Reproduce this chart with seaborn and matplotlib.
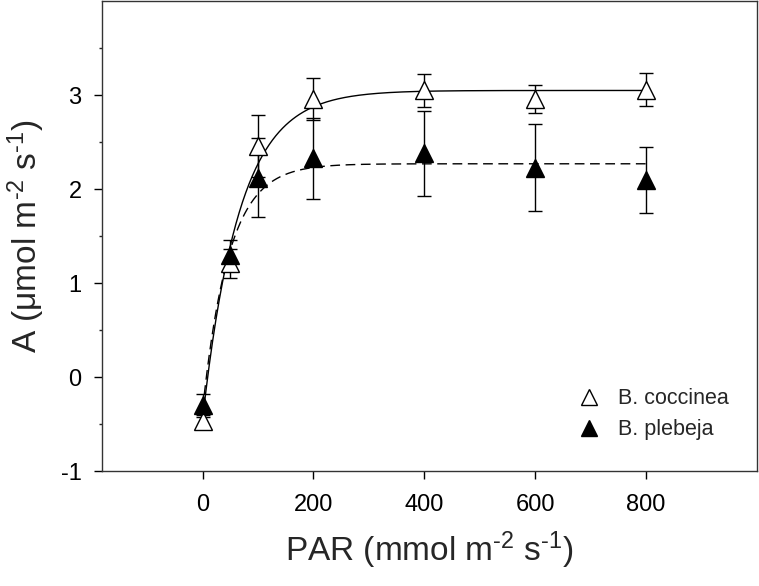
import numpy as np
import pandas as pd
import matplotlib
matplotlib.use("Agg")
import matplotlib.pyplot as plt
import seaborn as sns
from matplotlib.lines import Line2D

# Valores
par = [0, 50, 100, 200, 400, 600, 800]
coccinea = [-0.47, 1.21, 2.46, 2.96, 3.05, 2.96, 3.06]
coccinea_err = [0.07, 0.15, 0.33, 0.22, 0.18, 0.15, 0.18]
plebeja = [-0.30, 1.30, 2.12, 2.33, 2.38, 2.23, 2.10]
plebeja_err = [0.12, 0.16, 0.42, 0.43, 0.45, 0.46, 0.35]

# Parâmetros das curvas ajustadas: A = A0 + (Amax - A0) * (1 - exp(-k * PAR))
fit_coccinea = {"A0": -0.45, "Amax": 3.05, "k": 0.015}
fit_plebeja = {"A0": -0.35, "Amax": 2.27, "k": 0.021}

sns.set_style("ticks")
plt.rcParams["font.family"] = ["Liberation Sans", "DejaVu Sans"]
plt.rcParams["mathtext.fontset"] = "custom"
plt.rcParams["mathtext.rm"] = "Liberation Sans"
plt.rcParams["mathtext.it"] = "Liberation Sans"
plt.rcParams["axes.unicode_minus"] = False

fig, ax = plt.subplots(figsize=(7.59, 5.86), dpi=100)
fig.subplots_adjust(left=0.134, right=0.997, top=0.998, bottom=0.196)

x_fit = np.linspace(0, 800, 400)
curvas = []
for nome, p in [("B. coccinea", fit_coccinea), ("B. plebeja", fit_plebeja)]:
    y_fit = p["A0"] + (p["Amax"] - p["A0"]) * (1 - np.exp(-p["k"] * x_fit))
    curvas.append(pd.DataFrame({"PAR": x_fit, "A": y_fit, "especie": nome}))
curvas = pd.concat(curvas)

sns.lineplot(data=curvas, x="PAR", y="A", style="especie",
             dashes={"B. coccinea": "", "B. plebeja": (7, 4)},
             color="black", linewidth=1.0, legend=False, ax=ax)

ax.errorbar(par, coccinea, yerr=coccinea_err, fmt="none", ecolor="black",
            elinewidth=1.0, capsize=4.7, capthick=1.0, zorder=3)
ax.errorbar(par, plebeja, yerr=plebeja_err, fmt="none", ecolor="black",
            elinewidth=1.0, capsize=4.7, capthick=1.0, zorder=3)

ax.plot(par, coccinea, linestyle="none", marker="^", markersize=12.5,
        markerfacecolor="white", markeredgecolor="black", markeredgewidth=1.0, zorder=4)
ax.plot(par, plebeja, linestyle="none", marker="^", markersize=12.5,
        markerfacecolor="black", markeredgecolor="black", markeredgewidth=1.0, zorder=5)

ax.set_xlim(-182, 1000)
ax.set_ylim(-1, 4)
ax.set_xticks([0, 200, 400, 600, 800])
ax.set_yticks([-1, 0, 1, 2, 3])
ax.set_yticks([-0.5, 0.5, 1.5, 2.5, 3.5], minor=True)
ax.tick_params(axis="both", which="major", direction="out", length=5.5, width=1,
               labelsize=17, colors="black")
ax.tick_params(axis="x", which="major", pad=11)
ax.tick_params(axis="y", which="major", pad=9)
ax.tick_params(axis="y", which="minor", direction="out", length=2.5, width=1)
for s in ax.spines.values():
    s.set_color("#333333")
    s.set_linewidth(1.0)

ax.set_xlabel(r"PAR (mmol m$^{\text{-2}}$ s$^{\text{-1}}$)", fontsize=24, labelpad=10)
ax.set_ylabel(r"A ($\mathregular{\mu}$mol m$^{\text{-2}}$ s$^{\text{-1}}$)", fontsize=24, labelpad=10)

handles = [
    Line2D([], [], linestyle="none", marker="^", markersize=12,
           markerfacecolor="white", markeredgecolor="black"),
    Line2D([], [], linestyle="none", marker="^", markersize=12,
           markerfacecolor="black", markeredgecolor="black"),
]
ax.legend(handles, ["B. coccinea", "B. plebeja"], loc="center left",
          bbox_to_anchor=(0.689, 0.121), frameon=False, fontsize=15.5,
          handlelength=1.5, handletextpad=0.6, labelspacing=0.45)

plt.savefig("out.png", dpi=100)
plt.close()
